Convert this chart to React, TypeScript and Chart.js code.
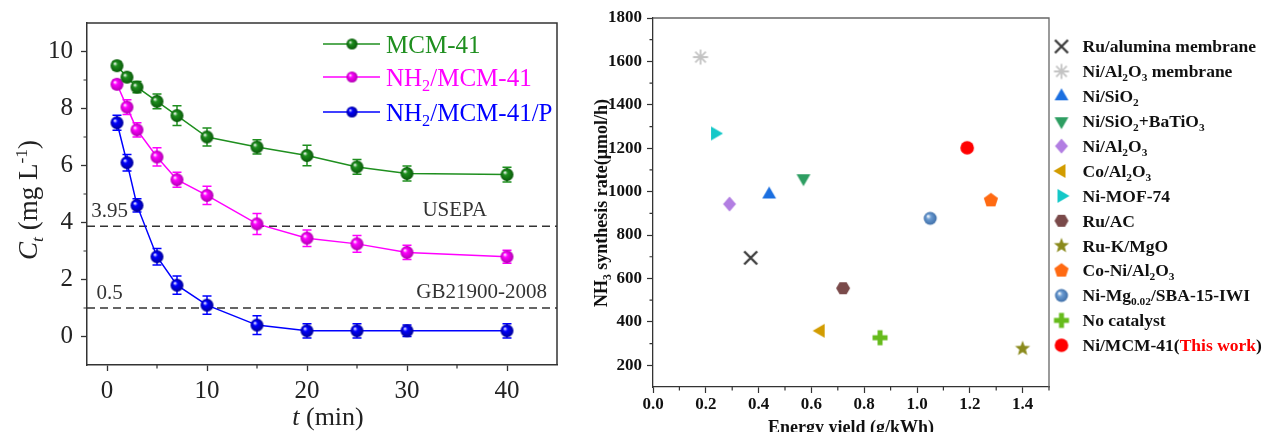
import React, { useEffect, useRef } from 'react';
import { Chart, registerables } from 'chart.js';

Chart.register(...registerables);

const SERIF = '"Liberation Serif", "Times New Roman", serif';

// ---------------- Left panel data ----------------
const TIME_MIN = [1, 2, 3, 5, 7, 10, 15, 20, 25, 30, 40];
const MCM41 = [9.5, 9.1, 8.75, 8.25, 7.75, 7.0, 6.65, 6.35, 5.95, 5.72, 5.68];
const MCM41_ERR = [0.15, 0.15, 0.2, 0.26, 0.35, 0.32, 0.25, 0.36, 0.26, 0.26, 0.26];
const NH2_MCM41 = [8.85, 8.05, 7.25, 6.3, 5.5, 4.95, 3.95, 3.45, 3.25, 2.95, 2.8];
const NH2_MCM41_ERR = [0.15, 0.26, 0.25, 0.32, 0.26, 0.32, 0.37, 0.29, 0.29, 0.25, 0.23];
const NH2_MCM41_P = [7.5, 6.1, 4.6, 2.8, 1.8, 1.1, 0.4, 0.2, 0.2, 0.2, 0.2];
const NH2_MCM41_P_ERR = [0.26, 0.29, 0.23, 0.29, 0.32, 0.32, 0.33, 0.25, 0.25, 0.2, 0.25];
const LEFT_SERIES = ['MCM-41', 'NH_{2}/MCM-41', 'NH_{2}/MCM-41/P'];
const LEFT_COLORS = ['#1f8f1f', '#ff00ff', '#0000ff'];
const LEFT_DARK = ['#0a5a0a', '#b000b0', '#00009a'];
const LEFT_X_TICKS = [0, 10, 20, 30, 40];
const LEFT_X_MINOR = [5, 15, 25, 35];
const LEFT_Y_TICKS = [0, 2, 4, 6, 8, 10];
const LEFT_Y_MINOR = [1, 3, 5, 7, 9];
const LIMIT_LEVELS = [3.87, 1.0];
const LIMIT_VALUES = ['3.95', '0.5'];
const LIMIT_NAMES = ['USEPA', 'GB21900-2008'];

// ---------------- Right panel data ----------------
const CATALYSTS = [
  'Ru/alumina membrane',
  'Ni/Al_{2}O_{3} membrane',
  'Ni/SiO_{2}',
  'Ni/SiO_{2}+BaTiO_{3}',
  'Ni/Al_{2}O_{3}',
  'Co/Al_{2}O_{3}',
  'Ni-MOF-74',
  'Ru/AC',
  'Ru-K/MgO',
  'Co-Ni/Al_{2}O_{3}',
  'Ni-Mg_{0.02}/SBA-15-IWI',
  'No catalyst',
  'Ni/MCM-41(!{This work})',
];
const ENERGY_YIELD = [0.37, 0.18, 0.44, 0.57, 0.29, 0.635, 0.235, 0.72, 1.4, 1.28, 1.05, 0.86, 1.19];
const SYNTH_RATE = [695, 1620, 987, 1062, 943, 359, 1268, 555, 277, 960, 877, 327, 1202];
const MARKER_KINDS = [
  'crossRot', 'asterisk', 'triangleUp', 'triangleDown', 'diamond', 'triangleLeft',
  'triangleRight', 'hexagon', 'star', 'pentagon', 'sphere', 'plus', 'circle',
];
const MARKER_COLORS = [
  '#3c3c3c', '#c4c4c4', '#1b6fe0', '#2e9e62', '#b27ee2', '#d29c00',
  '#14c8c8', '#7a4a4a', '#8a8a1c', '#ff6a12', '#6a9bd2', '#66bb1c', '#ff0000',
];
const RIGHT_X_TICKS = [0, 0.2, 0.4, 0.6, 0.8, 1.0, 1.2, 1.4];
const RIGHT_X_MINOR = [0.1, 0.3, 0.5, 0.7, 0.9, 1.1, 1.3, 1.5];
const RIGHT_Y_TICKS = [200, 400, 600, 800, 1000, 1200, 1400, 1600, 1800];
const RIGHT_Y_MINOR = [300, 500, 700, 900, 1100, 1300, 1500, 1700];

// ---------------- helpers ----------------
type Seg = { t: string; sub: boolean; sup: boolean; red: boolean; italic: boolean };

function parseRich(s: string): Seg[] {
  const out: Seg[] = [];
  let buf = '';
  let i = 0;
  const flush = () => {
    if (buf) out.push({ t: buf, sub: false, sup: false, red: false, italic: false });
    buf = '';
  };
  while (i < s.length) {
    let j = i;
    while (j < s.length && '_^!%'.includes(s[j])) j++;
    if (j > i && s[j] === '{') {
      flush();
      const mods = s.slice(i, j);
      const end = s.indexOf('}', j + 1);
      out.push({
        t: s.slice(j + 1, end),
        sub: mods.includes('_'),
        sup: mods.includes('^'),
        red: mods.includes('!'),
        italic: mods.includes('%'),
      });
      i = end + 1;
    } else {
      buf += s[i];
      i++;
    }
  }
  flush();
  return out;
}

type RichOpts = { size: number; weight?: string; color: string; align?: 'left' | 'center' | 'right' };

function drawRich(ctx: CanvasRenderingContext2D, text: string, x: number, y: number, o: RichOpts) {
  const segs = parseRich(text);
  const w = o.weight || 'normal';
  const fontOf = (sg: Seg) => {
    const sz = sg.sub || sg.sup ? o.size * 0.65 : o.size;
    return `${sg.italic ? 'italic ' : ''}${w} ${sz}px ${SERIF}`;
  };
  let total = 0;
  for (const sg of segs) {
    ctx.font = fontOf(sg);
    total += ctx.measureText(sg.t).width;
  }
  let cx = x;
  if (o.align === 'center') cx = x - total / 2;
  if (o.align === 'right') cx = x - total;
  ctx.textAlign = 'left';
  ctx.textBaseline = 'alphabetic';
  for (const sg of segs) {
    ctx.font = fontOf(sg);
    ctx.fillStyle = sg.red ? '#ff0000' : o.color;
    const dy = sg.sub ? o.size * 0.22 : sg.sup ? -o.size * 0.38 : 0;
    ctx.fillText(sg.t, cx, y + dy);
    cx += ctx.measureText(sg.t).width;
  }
}

function makeSphere(color: string, dark: string, size: number): HTMLCanvasElement {
  const S = Math.ceil(size) + 2;
  const c = document.createElement('canvas');
  c.width = S;
  c.height = S;
  const g = c.getContext('2d')!;
  const cx = S / 2, cy = S / 2, r = size / 2;
  const grad = g.createRadialGradient(cx - r * 0.35, cy - r * 0.35, r * 0.05, cx, cy, r);
  grad.addColorStop(0, '#ffffff');
  grad.addColorStop(0.3, color);
  grad.addColorStop(1, dark);
  g.fillStyle = grad;
  g.beginPath();
  g.arc(cx, cy, r, 0, Math.PI * 2);
  g.fill();
  return c;
}

function makeMarker(kind: string, color: string): HTMLCanvasElement {
  const S = 20;
  const c = document.createElement('canvas');
  c.width = S;
  c.height = S;
  const g = c.getContext('2d')!;
  const cx = S / 2, cy = S / 2;
  g.fillStyle = color;
  g.strokeStyle = color;
  const poly = (n: number, rot: number, rad: number) => {
    g.beginPath();
    for (let k = 0; k < n; k++) {
      const a = rot + (k * 2 * Math.PI) / n;
      const px = cx + rad * Math.cos(a), py = cy + rad * Math.sin(a);
      if (k) g.lineTo(px, py);
      else g.moveTo(px, py);
    }
    g.closePath();
    g.fill();
  };
  switch (kind) {
    case 'crossRot': {
      const d = 6.5;
      g.lineWidth = 2.4;
      g.beginPath();
      g.moveTo(cx - d, cy - d); g.lineTo(cx + d, cy + d);
      g.moveTo(cx + d, cy - d); g.lineTo(cx - d, cy + d);
      g.stroke();
      break;
    }
    case 'asterisk': {
      g.lineWidth = 1.8;
      g.beginPath();
      for (let k = 0; k < 4; k++) {
        const a = (k * Math.PI) / 4;
        g.moveTo(cx - 7.5 * Math.cos(a), cy - 7.5 * Math.sin(a));
        g.lineTo(cx + 7.5 * Math.cos(a), cy + 7.5 * Math.sin(a));
      }
      g.stroke();
      break;
    }
    case 'triangleUp': poly(3, -Math.PI / 2, 8); break;
    case 'triangleDown': poly(3, Math.PI / 2, 8); break;
    case 'triangleLeft': poly(3, Math.PI, 8); break;
    case 'triangleRight': poly(3, 0, 8); break;
    case 'diamond': {
      g.beginPath();
      g.moveTo(cx, cy - 7.5); g.lineTo(cx + 6.5, cy); g.lineTo(cx, cy + 7.5); g.lineTo(cx - 6.5, cy);
      g.closePath(); g.fill();
      break;
    }
    case 'hexagon': poly(6, 0, 7); break;
    case 'pentagon': poly(5, -Math.PI / 2, 7.5); break;
    case 'star': {
      g.beginPath();
      for (let k = 0; k < 10; k++) {
        const a = -Math.PI / 2 + (k * Math.PI) / 5;
        const rad = k % 2 ? 3.4 : 8;
        const px = cx + rad * Math.cos(a), py = cy + rad * Math.sin(a);
        if (k) g.lineTo(px, py); else g.moveTo(px, py);
      }
      g.closePath(); g.fill();
      break;
    }
    case 'plus': {
      const w = 5, arm = 7.5;
      g.fillRect(cx - w / 2, cy - arm, w, arm * 2);
      g.fillRect(cx - arm, cy - w / 2, arm * 2, w);
      break;
    }
    case 'sphere': {
      const r = 6.5;
      const grad = g.createRadialGradient(cx - r * 0.35, cy - r * 0.35, r * 0.05, cx, cy, r);
      grad.addColorStop(0, '#ffffff');
      grad.addColorStop(0.35, color);
      grad.addColorStop(1, '#3f6fa8');
      g.fillStyle = grad;
      g.beginPath(); g.arc(cx, cy, r, 0, Math.PI * 2); g.fill();
      break;
    }
    default: {
      g.beginPath(); g.arc(cx, cy, 6.8, 0, Math.PI * 2); g.fill();
    }
  }
  return c;
}

function framePlugin(color: string, width: number) {
  return {
    id: 'frame',
    afterDraw(chart: any) {
      const { ctx, chartArea: a } = chart;
      ctx.save();
      ctx.strokeStyle = color;
      ctx.lineWidth = width;
      ctx.beginPath();
      ctx.moveTo(a.left, a.top); ctx.lineTo(a.right, a.top); ctx.lineTo(a.right, a.bottom);
      ctx.stroke();
      ctx.restore();
    },
  };
}

function minorTicksPlugin(xMinor: number[], yMinor: number[], len: number, color: string) {
  return {
    id: 'minorTicks',
    afterDraw(chart: any) {
      const { ctx, chartArea: a, scales } = chart;
      ctx.save();
      ctx.strokeStyle = color;
      ctx.lineWidth = 1.2;
      ctx.beginPath();
      for (const v of xMinor) {
        const px = scales.x.getPixelForValue(v);
        ctx.moveTo(px, a.bottom); ctx.lineTo(px, a.bottom + len);
      }
      for (const v of yMinor) {
        const py = scales.y.getPixelForValue(v);
        ctx.moveTo(a.left, py); ctx.lineTo(a.left - len, py);
      }
      ctx.stroke();
      ctx.restore();
    },
  };
}

// ---------------- Left chart ----------------
function buildLeft(canvas: HTMLCanvasElement) {
  const values = [MCM41, NH2_MCM41, NH2_MCM41_P];
  const errors = [MCM41_ERR, NH2_MCM41_ERR, NH2_MCM41_P_ERR];
  const spheres = LEFT_COLORS.map((c, i) => makeSphere(c, LEFT_DARK[i], 13));
  const legendSpheres = LEFT_COLORS.map((c, i) => makeSphere(c, LEFT_DARK[i], 11));

  const overlay = {
    id: 'leftOverlay',
    beforeDatasetsDraw(chart: any) {
      const { ctx, chartArea: a, scales } = chart;
      ctx.save();
      ctx.strokeStyle = '#333';
      ctx.lineWidth = 1.5;
      ctx.setLineDash([8, 5]);
      LIMIT_LEVELS.forEach((lv) => {
        const py = scales.y.getPixelForValue(lv);
        ctx.beginPath(); ctx.moveTo(a.left, py); ctx.lineTo(a.right, py); ctx.stroke();
      });
      ctx.setLineDash([]);
      LIMIT_LEVELS.forEach((lv, i) => {
        const py = scales.y.getPixelForValue(lv);
        drawRich(ctx, LIMIT_VALUES[i], a.left + 22.5, py - 9, { size: 21, color: '#333', align: 'center' });
        drawRich(ctx, LIMIT_NAMES[i], a.right - (i === 0 ? 70 : 10), py - 10, { size: 21, color: '#333', align: 'right' });
      });
      values.forEach((_, i) => {
        const meta = chart.getDatasetMeta(i);
        ctx.strokeStyle = LEFT_COLORS[i];
        ctx.lineWidth = 1.5;
        meta.data.forEach((pt: any, j: number) => {
          const v = values[i][j], e = errors[i][j];
          const y1 = scales.y.getPixelForValue(v + e);
          const y2 = scales.y.getPixelForValue(v - e);
          ctx.beginPath();
          ctx.moveTo(pt.x, y1); ctx.lineTo(pt.x, y2);
          ctx.moveTo(pt.x - 4.5, y1); ctx.lineTo(pt.x + 4.5, y1);
          ctx.moveTo(pt.x - 4.5, y2); ctx.lineTo(pt.x + 4.5, y2);
          ctx.stroke();
        });
      });
      ctx.restore();
    },
    afterDraw(chart: any) {
      const { ctx } = chart;
      ctx.save();
      const rows = [44, 77, 112];
      LEFT_SERIES.forEach((name, i) => {
        const y = rows[i];
        ctx.strokeStyle = LEFT_COLORS[i];
        ctx.lineWidth = 1.5;
        ctx.beginPath(); ctx.moveTo(323, y); ctx.lineTo(380, y); ctx.stroke();
        const s = legendSpheres[i];
        ctx.drawImage(s, 352 - s.width / 2, y - s.height / 2);
        drawRich(ctx, name, 386, y + 8.5, { size: 25, color: LEFT_COLORS[i] });
      });
      ctx.save();
      ctx.translate(28, 200);
      ctx.rotate(-Math.PI / 2);
      drawRich(ctx, '%{C}_%{t} (mg L^{-1})', 0, 9, { size: 27, color: '#222', align: 'center' });
      ctx.restore();
      drawRich(ctx, '%{t} (min)', 328, 425, { size: 26, color: '#222', align: 'center' });
      ctx.restore();
    },
  };

  return new Chart(canvas, {
    type: 'line',
    data: {
      datasets: LEFT_SERIES.map((name, i) => ({
        label: name,
        data: TIME_MIN.map((t, j) => ({ x: t, y: values[i][j] })),
        borderColor: LEFT_COLORS[i],
        backgroundColor: LEFT_COLORS[i],
        borderWidth: 1.5,
        pointStyle: spheres[i] as any,
        pointRadius: 6,
        tension: 0,
        fill: false,
      })),
    },
    options: {
      animation: false,
      responsive: false,
      devicePixelRatio: 1,
      events: [],
      layout: { padding: { left: 0, right: 23, top: 18, bottom: 0 } },
      plugins: { legend: { display: false }, tooltip: { enabled: false } },
      scales: {
        x: {
          type: 'linear',
          min: -2,
          max: 45,
          afterBuildTicks: (s: any) => { s.ticks = LEFT_X_TICKS.map((v) => ({ value: v })); },
          afterFit: (s: any) => { s.height = 67; },
          ticks: { font: { family: SERIF, size: 25 }, color: '#222', padding: 5, maxRotation: 0, autoSkip: false },
          grid: { drawOnChartArea: false, tickLength: 6, tickColor: '#333', tickWidth: 1.3 },
          border: { color: '#333', width: 1.5 },
        },
        y: {
          type: 'linear',
          min: -1,
          max: 11,
          afterBuildTicks: (s: any) => { s.ticks = LEFT_Y_TICKS.map((v) => ({ value: v })); },
          afterFit: (s: any) => { s.width = 87; },
          ticks: { font: { family: SERIF, size: 25 }, color: '#222', padding: 8, autoSkip: false },
          grid: { drawOnChartArea: false, tickLength: 6, tickColor: '#333', tickWidth: 1.3 },
          border: { color: '#333', width: 1.5 },
        },
      },
    },
    plugins: [overlay, framePlugin('#333', 1.5), minorTicksPlugin(LEFT_X_MINOR, LEFT_Y_MINOR, 3.5, '#333')],
  } as any);
}

// ---------------- Right chart ----------------
function buildRight(canvas: HTMLCanvasElement) {
  const markers = MARKER_KINDS.map((k, i) => makeMarker(k, MARKER_COLORS[i]));

  const overlay = {
    id: 'rightOverlay',
    afterDraw(chart: any) {
      const { ctx } = chart;
      ctx.save();
      CATALYSTS.forEach((name, i) => {
        const y = 46.5 + i * 24.9;
        const m = markers[i];
        ctx.drawImage(m, 481.5 - m.width / 2, y - m.height / 2);
        drawRich(ctx, name, 502.5, y + 5.8, { size: 17.5, weight: 'bold', color: '#111' });
      });
      ctx.save();
      ctx.translate(21, 203);
      ctx.rotate(-Math.PI / 2);
      drawRich(ctx, 'NH_{3} synthesis rate(μmol/h)', 0, 6, { size: 18, weight: 'bold', color: '#111', align: 'center' });
      ctx.restore();
      drawRich(ctx, 'Energy yield (g/kWh)', 271, 433, { size: 18, weight: 'bold', color: '#111', align: 'center' });
      ctx.restore();
    },
  };

  return new Chart(canvas, {
    type: 'scatter',
    data: {
      datasets: CATALYSTS.map((name, i) => ({
        label: name,
        data: [{ x: ENERGY_YIELD[i], y: SYNTH_RATE[i] }],
        pointStyle: markers[i] as any,
        pointRadius: 7,
        backgroundColor: MARKER_COLORS[i],
        borderColor: MARKER_COLORS[i],
      })),
    },
    options: {
      animation: false,
      responsive: false,
      devicePixelRatio: 1,
      events: [],
      layout: { padding: { left: 0, right: 220, top: 18, bottom: 0 } },
      plugins: { legend: { display: false }, tooltip: { enabled: false } },
      scales: {
        x: {
          type: 'linear',
          min: 0,
          max: 1.5,
          afterBuildTicks: (s: any) => { s.ticks = RIGHT_X_TICKS.map((v) => ({ value: v })); },
          afterFit: (s: any) => { s.height = 45; },
          ticks: {
            font: { family: SERIF, size: 17, weight: 'bold' },
            color: '#111',
            padding: 1,
            maxRotation: 0,
            autoSkip: false,
            callback: (v: any) => Number(v).toFixed(1),
          },
          grid: { drawOnChartArea: false, tickLength: 6, tickColor: '#333', tickWidth: 1.2 },
          border: { color: '#333', width: 1.3 },
        },
        y: {
          type: 'linear',
          min: 100,
          max: 1800,
          afterBuildTicks: (s: any) => { s.ticks = RIGHT_Y_TICKS.map((v) => ({ value: v })); },
          afterFit: (s: any) => { s.width = 73; },
          ticks: {
            font: { family: SERIF, size: 17, weight: 'bold' },
            color: '#111',
            padding: 5,
            autoSkip: false,
            callback: (v: any) => String(v),
          },
          grid: { drawOnChartArea: false, tickLength: 6, tickColor: '#333', tickWidth: 1.2 },
          border: { color: '#333', width: 1.3 },
        },
      },
    },
    plugins: [overlay, framePlugin('#666', 1.3), minorTicksPlugin(RIGHT_X_MINOR, RIGHT_Y_MINOR, 3.5, '#333')],
  } as any);
}

export default function App() {
  const leftRef = useRef<HTMLCanvasElement>(null);
  const rightRef = useRef<HTMLCanvasElement>(null);

  useEffect(() => {
    const left = buildLeft(leftRef.current!);
    const right = buildRight(rightRef.current!);
    return () => {
      left.destroy();
      right.destroy();
    };
  }, []);

  return (
    <div style={{ position: 'absolute', left: 0, top: 0, width: 1269, height: 432, background: '#fff', overflow: 'hidden' }}>
      <canvas ref={leftRef} width={580} height={432} style={{ position: 'absolute', left: 0, top: 0 }} />
      <canvas ref={rightRef} width={689} height={432} style={{ position: 'absolute', left: 580, top: 0 }} />
    </div>
  );
}
